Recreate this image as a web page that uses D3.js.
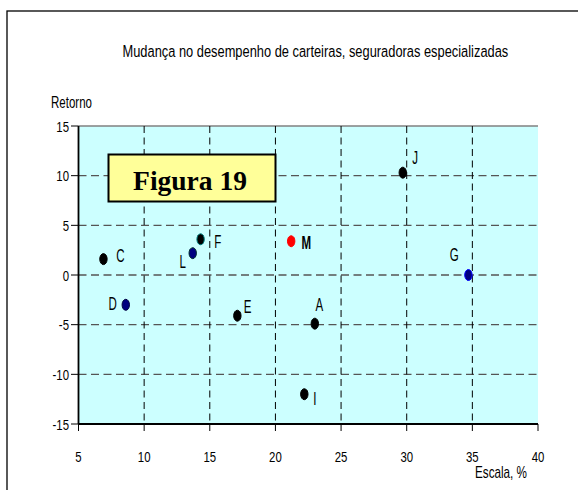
<!DOCTYPE html>
<html>
<head>
<meta charset="utf-8">
<script src="https://cdn.jsdelivr.net/npm/d3@7"></script>
<style>
  html, body { margin: 0; padding: 0; background: #fff; }
  svg { display: block; }
</style>
</head>
<body>
<svg id="chart" width="578" height="490"></svg>
<script>
// ---- data ----
const labels = ["A", "C", "D", "E", "F", "G", "I", "J", "L", "M"];
const xVals  = [23.0, 6.9, 8.6, 17.1, 14.3, 34.7, 22.2, 29.7, 13.7, 21.2];
const yVals  = [-4.9, 1.6, -3.0, -4.1, 3.6, 0.0, -12.0, 10.3, 2.2, 3.4];
const xTicks = [5, 10, 15, 20, 25, 30, 35, 40];
const yTicks = [-15, -10, -5, 0, 5, 10, 15];
const title = "Mudança no desempenho de carteiras, seguradoras especializadas";
const yTitle = "Retorno";
const xTitle = "Escala, %";
const boxText = "Figura 19";

// ---- styles (not data) ----
const SANS = "'Liberation Sans', Arial, sans-serif";
const SERIF = "'Liberation Serif', 'Times New Roman', serif";
const markerStyle = {
  A: ["#000000", "#000000"], C: ["#000000", "#000000"], D: ["#000080", "#000040"],
  E: ["#000000", "#000000"], F: ["#000000", "#008080"], G: ["#000080", "#0000FF"],
  I: ["#000000", "#000000"], J: ["#000000", "#000000"], L: ["#000080", "#003030"],
  M: ["#FF0000", "#FF0000"]
};
const labelOffset = {
  A: [0.7, -12.3], C: [12.7, 3], D: [-17.3, 5], E: [6.3, -2.7], F: [13.7, 9],
  G: [-18.7, -14], I: [9, 11], J: [9.4, -9], L: [-13.3, 15], M: [10.3, 7.3]
};

const svg = d3.select("#chart");
svg.append("rect").attr("width", 578).attr("height", 490).attr("fill", "#fff");

// outer border
svg.append("rect").attr("x", 7).attr("y", 11).attr("width", 620).attr("height", 520)
  .attr("fill", "none").attr("stroke", "#000").attr("stroke-width", 1.3);

const x = d3.scaleLinear().domain([5, 40]).range([78.5, 538]);
const y = d3.scaleLinear().domain([-15, 15]).range([424, 126]);

function ctext(g, str, px, py, size, sx, anchor, weight) {
  return g.append("text")
    .attr("transform", `translate(${px},${py}) scale(${sx},1)`)
    .attr("text-anchor", anchor || "start")
    .style("font-family", SANS)
    .attr("font-size", size)
    .attr("font-weight", weight || "normal")
    .attr("fill", "#000")
    .text(str);
}
// text fitted to a given width via horizontal scale
function fitText(g, str, left, py, size, width) {
  const t = g.append("text").attr("x", 0).attr("y", 0)
    .style("font-family", SANS).attr("font-size", size).attr("fill", "#000").text(str);
  const w = t.node().getComputedTextLength();
  t.attr("transform", `translate(${left},${py}) scale(${width / w},1)`);
  return t;
}

// title
fitText(svg, title, 122.5, 57, 17, 386);
// y title
fitText(svg, yTitle, 51, 108, 16, 41);

// plot background
svg.append("rect").attr("x", x(5)).attr("y", y(15))
  .attr("width", x(40) - x(5)).attr("height", y(-15) - y(15))
  .attr("fill", "#CCFFFF");

// horizontal grid
svg.append("g").selectAll("line").data(yTicks.filter(d => d > -15)).join("line")
  .attr("x1", x(5)).attr("x2", x(40))
  .attr("y1", d => y(d)).attr("y2", d => y(d))
  .attr("stroke", d => d === 15 ? "#808080" : "#555")
  .attr("stroke-width", 1.4)
  .attr("stroke-dasharray", d => d === 15 ? null : "8,4.5");

// vertical grid
svg.append("g").selectAll("line").data(xTicks.filter(d => d > 5 && d < 40)).join("line")
  .attr("x1", d => x(d)).attr("x2", d => x(d))
  .attr("y1", y(15)).attr("y2", y(-15))
  .attr("stroke", "#000").attr("stroke-width", 1)
  .attr("stroke-dasharray", "7,4.5");

// axes lines
const gAx = svg.append("g");
gAx.append("line").attr("x1", x(5)).attr("x2", x(5)).attr("y1", y(15)).attr("y2", y(-15))
  .attr("stroke", "#000").attr("stroke-width", 1.8);
gAx.append("line").attr("x1", x(5)).attr("x2", x(40)).attr("y1", y(-15)).attr("y2", y(-15))
  .attr("stroke", "#000").attr("stroke-width", 1.8);
gAx.selectAll(".yt").data(yTicks).join("line").attr("class", "yt")
  .attr("x1", x(5) - 7.5).attr("x2", x(5)).attr("y1", d => y(d)).attr("y2", d => y(d))
  .attr("stroke", "#000").attr("stroke-width", 1);
gAx.selectAll(".xt").data(xTicks).join("line").attr("class", "xt")
  .attr("x1", d => x(d)).attr("x2", d => x(d)).attr("y1", y(-15)).attr("y2", y(-15) + 7)
  .attr("stroke", "#000").attr("stroke-width", 1);

// tick labels
yTicks.forEach(d => ctext(svg, String(d), 69, y(d) + 5.5, 15, 0.76, "end"));
xTicks.forEach(d => ctext(svg, String(d), x(d), 462, 15, 0.76, "middle"));

// x title
fitText(svg, xTitle, 475, 478, 16, 52);

// Figura box
svg.append("rect").attr("x", 108.5).attr("y", 154.5).attr("width", 167).attr("height", 47)
  .attr("fill", "#FFFF99").attr("stroke", "#000").attr("stroke-width", 2);
svg.append("text").attr("x", 190).attr("y", 190).attr("text-anchor", "middle")
  .style("font-family", SERIF)
  .attr("font-weight", "bold").attr("font-size", 27.5).attr("fill", "#000").text(boxText);

// points
const pts = labels.map((l, i) => ({ l, x: xVals[i], y: yVals[i] }));
svg.append("g").selectAll("ellipse").data(pts).join("ellipse")
  .attr("cx", d => x(d.x)).attr("cy", d => y(d.y))
  .attr("rx", 3.7).attr("ry", 5.5)
  .attr("fill", d => markerStyle[d.l][0])
  .attr("stroke", d => markerStyle[d.l][1])
  .attr("stroke-width", 1);

// point labels
pts.forEach(d => {
  const o = labelOffset[d.l];
  ctext(svg, d.l, x(d.x) + o[0], y(d.y) + o[1], 18, 0.64, "start", d.l === "M" ? "bold" : "normal");
});
</script>
</body>
</html>
